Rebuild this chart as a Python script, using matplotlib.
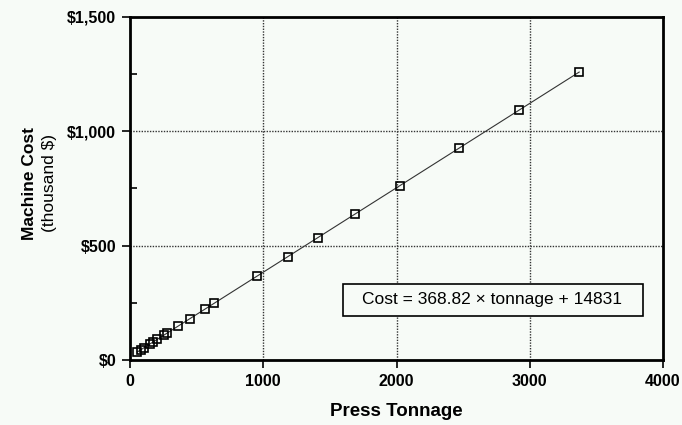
"""
Press tonnage vs machine cost scatter with linear fit line.
"""

import matplotlib

matplotlib.use("Agg")
import matplotlib.pyplot as plt
from matplotlib.patches import Rectangle
from matplotlib.ticker import FuncFormatter, MultipleLocator

# Data
tonnage = [55, 80, 105, 148, 175, 205, 253, 280, 360, 450, 565, 630,
           955, 1183, 1408, 1686, 2025, 2470, 2920, 3371]
cost_k = [35.1, 44.3, 53.6, 69.4, 79.4, 90.4, 108.1, 118.1, 147.6, 180.8, 223.2, 247.2,
          367.0, 451.1, 534.1, 636.7, 761.7, 925.8, 1091.8, 1258.1]
x_ticks = [0, 1000, 2000, 3000, 4000]
y_ticks = [0, 500, 1000, 1500]
fit_label = "Cost = 368.82 \u00d7 tonnage + 14831"

BG = "#f7fbf7"
plt.rcParams["font.family"] = ["Liberation Sans", "DejaVu Sans"]

fig = plt.figure(figsize=(6.82, 4.25), dpi=100, facecolor=BG)
ax = fig.add_axes([130 / 682, 1 - 360 / 425, 533 / 682, 343.3 / 425], facecolor=BG)

# Fit line and markers
ax.plot(tonnage, cost_k, color="#333333", linewidth=0.8, zorder=3)
ax.plot(tonnage, cost_k, linestyle="none", marker="s", markersize=5.5,
        markerfacecolor="none", markeredgecolor="black", markeredgewidth=1.2, zorder=4)

ax.set_xlim(0, 4000)
ax.set_ylim(0, 1500)
ax.set_xticks(x_ticks)
ax.set_yticks(y_ticks)
ax.yaxis.set_minor_locator(MultipleLocator(250))
ax.yaxis.set_major_formatter(FuncFormatter(lambda v, _: f"${v:,.0f}"))

ax.tick_params(axis="both", which="major", direction="out", length=6, width=1.2,
               labelsize=11.5, pad=4)
ax.tick_params(axis="y", which="minor", direction="in", length=5, width=1.2)
for lab in ax.get_xticklabels() + ax.get_yticklabels():
    lab.set_fontweight("bold")

# Dotted gridlines at the inner major ticks only
for xv in x_ticks[1:-1]:
    ax.axvline(xv, color="#333333", linestyle=(0, (1, 1)), linewidth=1.0, zorder=1)
for yv in y_ticks[1:-1]:
    ax.axhline(yv, color="#333333", linestyle=(0, (1, 1)), linewidth=1.0, zorder=1)

for side in ["left", "bottom", "right", "top"]:
    ax.spines[side].set_linewidth(2.0)
    ax.spines[side].set_color("black")

# Axis labels
ax.set_xlabel("Press Tonnage", fontsize=13.5, fontweight="bold", labelpad=10)
fig.text(30 / 682, 1 - 183 / 425, "Machine Cost", rotation=90, fontsize=12.5,
         fontweight="bold", ha="center", va="center")
fig.text(49 / 682, 1 - 183 / 425, "(thousand $)", rotation=90, fontsize=12.5,
         ha="center", va="center")

# Equation box
ax.add_patch(Rectangle((0.399, 0.129), 0.563, 0.0915, transform=ax.transAxes,
                       facecolor=BG, edgecolor="black", linewidth=1.2, zorder=5))
ax.text(0.68, 0.175, fit_label, transform=ax.transAxes, fontsize=12.5,
        ha="center", va="center", zorder=6)

fig.savefig("out.png", dpi=100, facecolor=BG)
